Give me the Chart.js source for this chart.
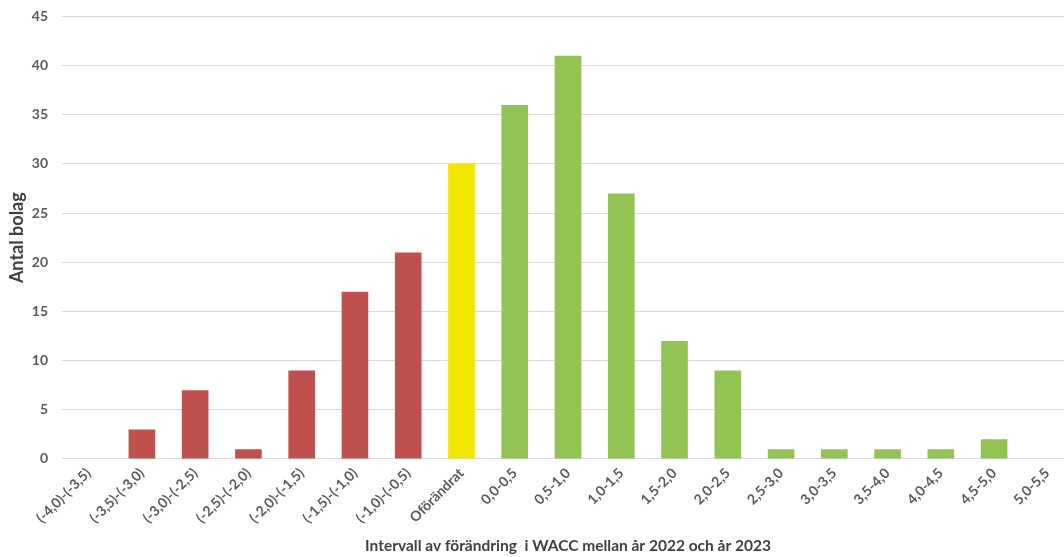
<!DOCTYPE html>
<html>
<head>
<meta charset="utf-8">
<script src="https://cdn.jsdelivr.net/npm/chart.js@4"></script>
<style>
  html, body { margin: 0; padding: 0; background: #ffffff; overflow: hidden; }
  #wrap { width: 1076px; height: 557px; overflow: hidden; }
  #c { display: block; margin-top: -6px; }
</style>
</head>
<body>
<div id="wrap"><canvas id="c" width="1076" height="563"></canvas></div>
<script>
// Intervals of WACC change (percentage points) between 2022 and 2023
const categories = [
  "(-4,0)-(-3,5)", "(-3,5)-(-3,0)", "(-3,0)-(-2,5)", "(-2,5)-(-2,0)",
  "(-2,0)-(-1,5)", "(-1,5)-(-1,0)", "(-1,0)-(-0,5)", "Oförändrat",
  "0,0-0,5", "0,5-1,0", "1,0-1,5", "1,5-2,0", "2,0-2,5", "2,5-3,0",
  "3,0-3,5", "3,5-4,0", "4,0-4,5", "4,5-5,0", "5,0-5,5"
];
// Number of companies per interval
const companies = [0, 3, 7, 1, 9, 17, 21, 30, 36, 41, 27, 12, 9, 1, 1, 1, 1, 2, 0];
// Colour group: decrease, unchanged, increase
const groups = ["ned", "ned", "ned", "ned", "ned", "ned", "ned", "oförändrat",
  "upp", "upp", "upp", "upp", "upp", "upp", "upp", "upp", "upp", "upp", "upp"];
const groupColors = { ned: "#C0504D", "oförändrat": "#F2E500", upp: "#92C353" };

const yTitle = "Antal bolag";
const xTitle = "Intervall av förändring  i WACC mellan år 2022 och år 2023";

new Chart(document.getElementById("c"), {
  type: "bar",
  data: {
    labels: categories,
    datasets: [{
      data: companies,
      backgroundColor: groups.map(g => groupColors[g]),
      borderWidth: 0,
      barPercentage: 0.5,
      categoryPercentage: 1.0
    }]
  },
  options: {
    responsive: false,
    animation: false,
    layout: { padding: { top: 1, right: 2, left: 2, bottom: 2 } },
    plugins: { legend: { display: false }, tooltip: { enabled: false } },
    scales: {
      x: {
        grid: { display: false, drawTicks: false },
        border: { display: true, color: "#d9d9d9", width: 1 },
        ticks: {
          color: "#595959",
          font: { family: "Lato", size: 14, weight: "bold" },
          maxRotation: 45, minRotation: 45,
          autoSkip: false,
          padding: 6
        },
        title: {
          display: true, text: xTitle, color: "#404040",
          font: { family: "Lato", size: 15.5, weight: "bold" },
          padding: { top: 4, bottom: 0 }
        }
      },
      y: {
        min: 0, max: 45,
        afterFit: (scale) => { scale.width = 60; },
        grid: { color: "#d9d9d9", lineWidth: 1, drawTicks: false },
        border: { display: false },
        ticks: {
          stepSize: 5,
          color: "#595959",
          font: { family: "Lato", size: 14, weight: "bold" },
          padding: 14
        },
        title: {
          display: true, text: yTitle, color: "#404040",
          font: { family: "Lato", size: 18, weight: "bold" },
          padding: { top: 4, bottom: 0 }
        }
      }
    }
  }
});
</script>
</body>
</html>
